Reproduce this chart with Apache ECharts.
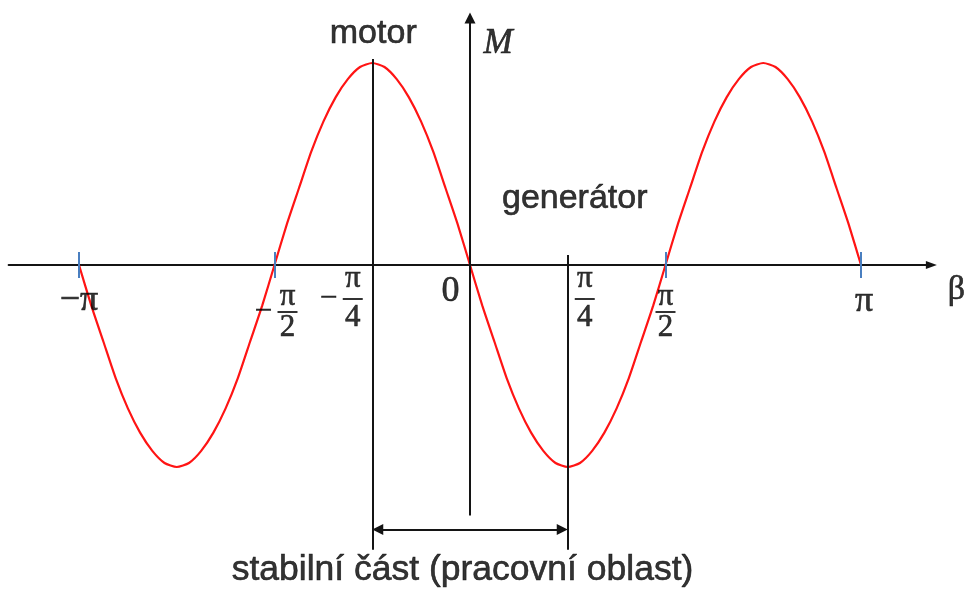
<!DOCTYPE html>
<html>
<head>
<meta charset="utf-8">
<title>M(β)</title>
<script src="https://cdn.jsdelivr.net/npm/echarts@6/dist/echarts.min.js"></script>
<style>
  html, body { margin: 0; padding: 0; background: #ffffff; }
  #chart { width: 966px; height: 590px; }
</style>
</head>
<body>
<div id="chart"></div>
<script>
// Load angle β, in multiples of π, sampled every π/32
const betaPi = [
  -1, -0.96875, -0.9375, -0.90625, -0.875, -0.84375, -0.8125, -0.78125,
  -0.75, -0.71875, -0.6875, -0.65625, -0.625, -0.59375, -0.5625, -0.53125,
  -0.5, -0.46875, -0.4375, -0.40625, -0.375, -0.34375, -0.3125, -0.28125,
  -0.25, -0.21875, -0.1875, -0.15625, -0.125, -0.09375, -0.0625, -0.03125,
  0, 0.03125, 0.0625, 0.09375, 0.125, 0.15625, 0.1875, 0.21875,
  0.25, 0.28125, 0.3125, 0.34375, 0.375, 0.40625, 0.4375, 0.46875,
  0.5, 0.53125, 0.5625, 0.59375, 0.625, 0.65625, 0.6875, 0.71875,
  0.75, 0.78125, 0.8125, 0.84375, 0.875, 0.90625, 0.9375, 0.96875, 1];
// Torque M relative to its peak value
const torque = [
  0, -0.2, -0.38, -0.56, -0.71, -0.83, -0.92, -0.98,
  -1, -0.98, -0.92, -0.83, -0.71, -0.56, -0.38, -0.2,
  0, 0.2, 0.38, 0.56, 0.71, 0.83, 0.92, 0.98,
  1, 0.98, 0.92, 0.83, 0.71, 0.56, 0.38, 0.2,
  0, -0.2, -0.38, -0.56, -0.71, -0.83, -0.92, -0.98,
  -1, -0.98, -0.92, -0.83, -0.71, -0.56, -0.38, -0.2,
  0, 0.2, 0.38, 0.56, 0.71, 0.83, 0.92, 0.98,
  1, 0.98, 0.92, 0.83, 0.71, 0.56, 0.38, 0.2, 0];
// β axis tick values (multiples of π) and their labels
const tickValues = [-1, -0.5, -0.25, 0, 0.25, 0.5, 1];
const tickLabels = ['−π', '−π/2', '−π/4', '0', 'π/4', 'π/2', 'π'];
// β values marked with a short blue tick
const markedTicks = [-1, -0.5, 0.5, 1];
// Stable region: its two boundaries in β/π and where each boundary line starts (M)
const stableEdges = [-0.25, 0.25];
const stableEdgeTops = [1.02, 0.05];
const stableEdgeBottom = -1.41;
const stableArrowLevel = -1.31;
const mAxisBottom = -1.24;
// Annotation texts
const noteTexts = ['motor', 'generátor', 'stabilní část (pracovní oblast)', 'M', 'β'];

// ---- layout and styling ----
const X0 = 470, PX_PI = 391;      // pixel x of β = 0, pixels per π
const Y0 = 265, PX_M = 202;       // pixel y of M = 0, pixels per unit of M
const X_MIN = -1.18, X_MAX = 1.18, Y_MIN = -1.45, Y_MAX = 1.25;
const ARROW = 11;
const INK = '#000000';
const LINE = '#141414';
const RED = '#ff1414';
const BLUE = '#4a7fc0';
const SERIF = '"Liberation Serif", "DejaVu Serif", serif';
const SANS = '"Liberation Sans", Arial, sans-serif';
// a hairline outline in the text colour gives the glyphs a little more weight
const INK_EDGE = { textBorderColor: INK, textBorderWidth: 0.6 };

// pixel offsets of each tick label from its point on the β axis
const tickLabelOffsets = [[0, 36], [13, 48], [-19.5, 33], [-19.5, 27], [17, 33], [0, 48], [3, 37]];
// anchor (data) and pixel offset of each annotation
const noteAnchors = [[-0.25, 1], [0.25, 0], [0, stableArrowLevel], [0, Y_MAX], [X_MAX, 0]];
const noteOffsets = [[1, -29], [7, -66], [-7.5, 41], [28, 31], [25, 25]];
const noteFonts = [
  { fontFamily: SANS, fontSize: 34 },
  { fontFamily: SANS, fontSize: 34 },
  { fontFamily: SANS, fontSize: 35.5 },
  { fontFamily: SERIF, fontSize: 35, fontStyle: 'italic' },
  { fontFamily: SERIF, fontSize: 34 }
];

function fractionRich(numLH, denLH) {
  return {
    num: Object.assign({ fontFamily: SERIF, fontSize: 31, color: INK, lineHeight: numLH, align: 'center' }, INK_EDGE),
    minus: Object.assign({ fontFamily: SERIF, fontSize: 31, color: INK, width: 28, lineHeight: 6, align: 'center' }, INK_EDGE),
    pad: { width: 28, lineHeight: 6, align: 'center' },
    bar: { width: 20, height: 2, lineHeight: 6, backgroundColor: INK, align: 'center' },
    den: Object.assign({ fontFamily: SERIF, fontSize: 31, color: INK, lineHeight: denLH, align: 'center' }, INK_EDGE)
  };
}

// Turn "−π/4" into a stacked fraction written with rich text
function tickText(label) {
  const m = label.match(/^(−?)(π)\/(\d)$/);
  if (!m) return { text: label, rich: {} };
  const middle = m[1] ? '{minus|−}{bar|}{pad|}' : '{pad|}{bar|}{pad|}';
  const rich = m[3] === '4' ? fractionRich(34, 32) : fractionRich(24, 26);
  return { text: '{num|' + m[2] + '}\n' + middle + '\n{den|' + m[3] + '}', rich: rich };
}

const blackLine = { color: LINE, width: 2, type: 'solid' };
const blueLine = { color: BLUE, width: 2, type: 'solid' };

// Black construction lines: M axis, stable-region boundaries and the double arrow
const guideLines = [];
guideLines.push([
  { coord: [0, mAxisBottom], symbol: 'none', lineStyle: blackLine },
  { coord: [0, Y_MAX - ARROW / 2 / PX_M], symbol: 'triangle', symbolSize: ARROW, lineStyle: blackLine }
]);
stableEdges.forEach((b, i) => {
  guideLines.push([
    { coord: [b, stableEdgeTops[i]], symbol: 'none', lineStyle: blackLine },
    { coord: [b, stableEdgeBottom], symbol: 'none', lineStyle: blackLine }
  ]);
});
const inset = ARROW / 2 / PX_PI;
guideLines.push([
  { coord: [stableEdges[0] + inset, stableArrowLevel], symbol: 'triangle', symbolSize: ARROW, lineStyle: blackLine },
  { coord: [stableEdges[1] - inset, stableArrowLevel], symbol: 'triangle', symbolSize: ARROW, lineStyle: blackLine }
]);

const tickHalf = 13 / PX_M;
const blueTicks = markedTicks.map(b => [
  { coord: [b, -tickHalf], symbol: 'none', lineStyle: blueLine },
  { coord: [b, tickHalf], symbol: 'none', lineStyle: blueLine }
]);

const chart = echarts.init(document.getElementById('chart'), null, { renderer: 'canvas' });

chart.setOption({
  animation: false,
  backgroundColor: '#ffffff',
  grid: {
    left: X0 + X_MIN * PX_PI,
    width: (X_MAX - X_MIN) * PX_PI,
    top: Y0 - Y_MAX * PX_M,
    height: (Y_MAX - Y_MIN) * PX_M,
    containLabel: false,
    outerBoundsMode: 'none'
  },
  xAxis: {
    type: 'value',
    min: X_MIN,
    max: X_MAX,
    axisLine: {
      show: true,
      onZero: true,
      symbol: ['none', 'triangle'],
      symbolSize: [8, ARROW],
      lineStyle: { color: LINE, width: 2 }
    },
    axisTick: { show: false },
    axisLabel: { show: false },
    splitLine: { show: false }
  },
  yAxis: {
    type: 'value',
    min: Y_MIN,
    max: Y_MAX,
    show: false
  },
  series: [
    {
      name: 'ticks',
      type: 'line',
      data: [],
      z: 2,
      silent: true,
      markLine: {
        silent: true,
        animation: false,
        label: { show: false },
        emphasis: { disabled: true },
        data: blueTicks
      }
    },
    {
      name: 'M',
      type: 'line',
      z: 3,
      silent: true,
      smooth: 0.2,
      showSymbol: false,
      symbol: 'none',
      lineStyle: { color: RED, width: 2.2 },
      data: betaPi.map((b, i) => [b, torque[i]])
    },
    {
      name: 'guides',
      type: 'line',
      data: [],
      z: 4,
      silent: true,
      markLine: {
        silent: true,
        animation: false,
        label: { show: false },
        emphasis: { disabled: true },
        data: guideLines
      }
    },
    {
      name: 'tickLabels',
      type: 'scatter',
      z: 5,
      silent: true,
      clip: false,
      symbolSize: 1,
      itemStyle: { color: 'rgba(0,0,0,0)' },
      data: tickValues.map((v, i) => {
        const t = tickText(tickLabels[i]);
        return {
          value: [v, 0],
          label: Object.assign({
            show: true,
            position: 'inside',
            offset: tickLabelOffsets[i],
            formatter: t.text,
            fontFamily: SERIF,
            fontSize: 36,
            color: INK,
            rich: t.rich
          }, INK_EDGE)
        };
      })
    },
    {
      name: 'notes',
      type: 'scatter',
      z: 5,
      silent: true,
      clip: false,
      symbolSize: 1,
      itemStyle: { color: 'rgba(0,0,0,0)' },
      data: noteTexts.map((txt, i) => ({
        value: noteAnchors[i],
        label: Object.assign({
          show: true,
          position: 'inside',
          offset: noteOffsets[i],
          formatter: txt,
          color: INK
        }, INK_EDGE, noteFonts[i])
      }))
    }
  ]
});
</script>
</body>
</html>
